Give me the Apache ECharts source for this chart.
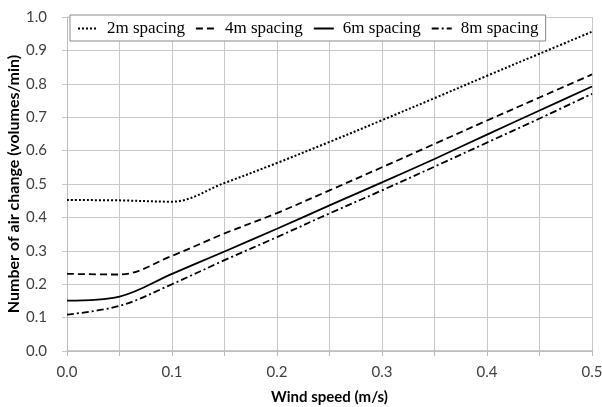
<!DOCTYPE html>
<html>
<head>
<meta charset="utf-8">
<script src="https://cdn.jsdelivr.net/npm/echarts@6/dist/echarts.min.js"></script>
<style>
  html, body { margin: 0; padding: 0; background: #fff; }
  #chart { width: 602px; height: 407px; }
</style>
</head>
<body>
<div id="chart"></div>
<script>
    // wind speed (m/s)
    var windSpeed = [0, 0.05, 0.1, 0.15, 0.2, 0.25, 0.3, 0.35, 0.4, 0.45, 0.5];
    var seriesNames = ['2m spacing', '4m spacing', '6m spacing', '8m spacing'];
    // number of air change (volumes/min)
    var spacing2m = [0.452, 0.451, 0.447, 0.503, 0.563, 0.626, 0.691, 0.757, 0.824, 0.890, 0.956];
    var spacing4m = [0.231, 0.229, 0.285, 0.352, 0.413, 0.481, 0.550, 0.620, 0.690, 0.759, 0.828];
    var spacing6m = [0.151, 0.163, 0.231, 0.298, 0.366, 0.436, 0.505, 0.575, 0.648, 0.720, 0.792];
    var spacing8m = [0.109, 0.135, 0.200, 0.272, 0.341, 0.412, 0.481, 0.552, 0.624, 0.696, 0.770];

    var lineTypes = [[2, 2], [7, 4], 'solid', [7, 3, 2, 3]];
    var allData = [spacing2m, spacing4m, spacing6m, spacing8m];

    function pairs(ys) {
        var out = [];
        for (var i = 0; i < windSpeed.length; i++) {
            out.push([windSpeed[i], ys[i]]);
        }
        return out;
    }

    var series = [];
    for (var k = 0; k < seriesNames.length; k++) {
        series.push({
            name: seriesNames[k],
            type: 'line',
            smooth: 0.35,
            symbol: 'none',
            data: pairs(allData[k]),
            lineStyle: { color: '#000', width: k === 0 ? 2 : 1.8, type: lineTypes[k] },
            itemStyle: { color: '#000' }
        });
    }

    var axisFont = 'Lato, "Open Sans", sans-serif';

    var option = {
        animation: false,
        backgroundColor: '#fff',
        grid: { left: 67, right: 10, top: 17, bottom: 56, outerBoundsMode: 'none', containLabel: false },
        legend: {
            data: seriesNames,
            left: 70,
            top: 15,
            padding: [5, 7, 4, 7],
            itemWidth: 20,
            itemHeight: 10,
            itemGap: 10,
            backgroundColor: '#fff',
            borderColor: '#888',
            borderWidth: 1,
            itemStyle: { opacity: 0 },
            textStyle: { fontFamily: '"Liberation Serif", serif', fontSize: 17, color: '#000', padding: [0, 0, 0, 4] }
        },
        xAxis: {
            type: 'value',
            min: 0,
            max: 0.5,
            interval: 0.05,
            name: 'Wind speed (m/s)',
            nameLocation: 'middle',
            nameGap: 39,
            nameMoveOverlap: false,
            nameTextStyle: { fontFamily: axisFont, fontSize: 15, fontWeight: 'bold', color: '#000' },
            axisLine: { lineStyle: { color: '#bbb', width: 1.5 } },
            axisTick: { show: true, length: 5, lineStyle: { color: '#bbb' } },
            axisLabel: {
                fontFamily: axisFont, fontSize: 15, color: '#404040', margin: 14,
                formatter: function (v) {
                    var t = v * 10;
                    return Math.abs(t - Math.round(t)) < 1e-6 ? v.toFixed(1) : '';
                }
            },
            splitLine: { show: true, lineStyle: { color: '#c8c8c8', width: 1 } }
        },
        yAxis: {
            type: 'value',
            min: 0,
            max: 1,
            interval: 0.1,
            name: 'Number of air change (volumes/min)',
            nameLocation: 'middle',
            nameGap: 45,
            nameMoveOverlap: false,
            nameTextStyle: { fontFamily: axisFont, fontSize: 16, fontWeight: 'bold', color: '#000' },
            axisLine: { show: true, lineStyle: { color: '#bbb', width: 1 } },
            axisTick: { show: true, length: 5, lineStyle: { color: '#c8c8c8' } },
            axisLabel: {
                fontFamily: axisFont, fontSize: 15, color: '#404040', margin: 20,
                formatter: function (v) { return v.toFixed(1); }
            },
            splitLine: { show: true, lineStyle: { color: '#c8c8c8', width: 1 } }
        },
        series: series
    };

    var chart = echarts.init(document.getElementById('chart'), null, { renderer: 'canvas' });
    chart.setOption(option);
</script>
</body>
</html>
